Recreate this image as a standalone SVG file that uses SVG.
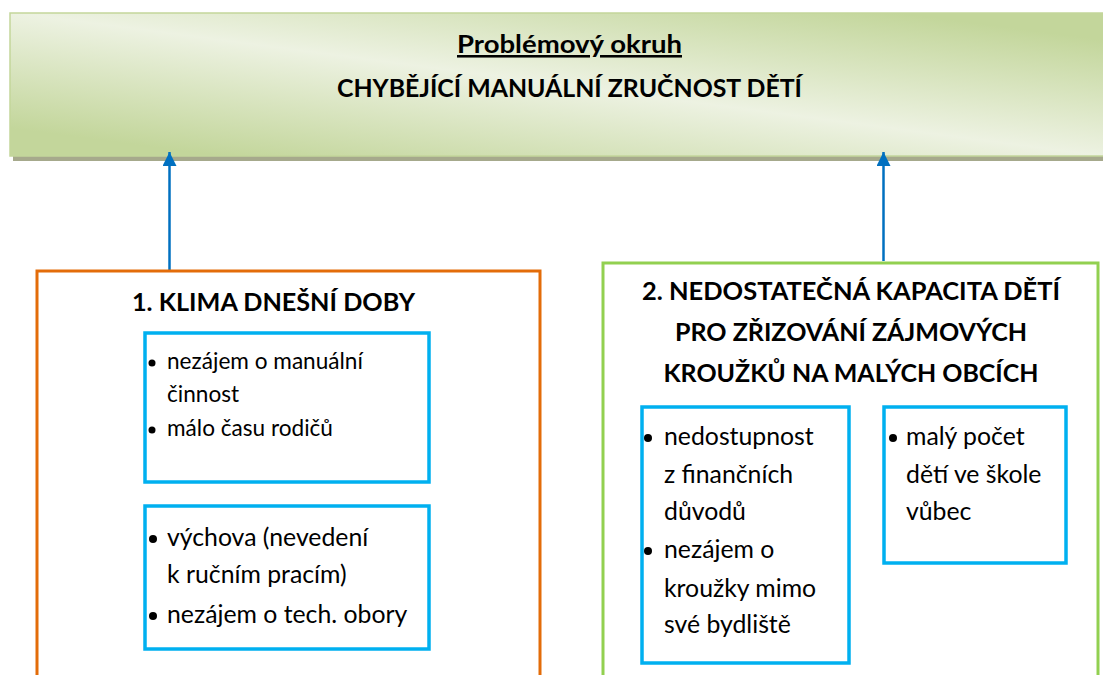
<svg xmlns="http://www.w3.org/2000/svg" width="1103" height="675" viewBox="0 0 1103 675">
<style>
text{font-family:Lato,"Open Sans","Liberation Sans",sans-serif;fill:#000}
.t{font-weight:bold;font-size:25.5px;text-anchor:middle}
.b1{font-size:22.6px}
.b2{font-size:24.8px}
.sub{fill:#fff;stroke:#00b0f0;stroke-width:3.5}
.conn{stroke:#0070c0;stroke-width:2.5;fill:none}
</style>
<defs>
<linearGradient id="g" gradientUnits="userSpaceOnUse" x1="571" y1="-30" x2="541" y2="198">
<stop offset="0" stop-color="#c3d69b"/>
<stop offset="0.5" stop-color="#edf2e2"/>
<stop offset="1" stop-color="#c3d69b"/>
</linearGradient>
<marker id="ah" viewBox="0 0 10 10" refX="10" refY="5" markerWidth="16" markerHeight="14" markerUnits="userSpaceOnUse" orient="auto">
<path d="M0,0 L10,5 L0,10 z" fill="#0070c0"/>
</marker>
</defs>
<rect width="1103" height="675" fill="#fff"/>
<g id="problem">
<rect x="13" y="17" width="1095" height="144" fill="#a6a98c"/>
<rect x="10" y="13" width="1098" height="143" fill="url(#g)" stroke="#c3d69b" stroke-width="1.5"/>
<text class="t" x="569.5" y="53" text-decoration="underline" textLength="225" lengthAdjust="spacingAndGlyphs">Problémový okruh</text>
<text class="t" x="569.5" y="97" textLength="465" lengthAdjust="spacingAndGlyphs">CHYBĚJÍCÍ MANUÁLNÍ ZRUČNOST DĚTÍ</text>
</g>
<g id="connectors">
<line class="conn" x1="169.5" y1="270" x2="169.5" y2="152" marker-end="url(#ah)"/>
<line class="conn" x1="883.5" y1="261" x2="883.5" y2="152" marker-end="url(#ah)"/>
</g>
<g id="cause1">
<rect x="37" y="271" width="503" height="420" fill="#fff" stroke="#e36c09" stroke-width="3"/>
<text class="t" x="273.5" y="311" textLength="283" lengthAdjust="spacingAndGlyphs">1. KLIMA DNEŠNÍ DOBY</text>
</g>
<g id="cause1a">
<rect class="sub" x="145" y="333" width="284" height="149"/>
<circle cx="152" cy="363" r="3.5"/>
<text class="b1" x="167" y="369">nezájem o manuální</text>
<text class="b1" x="167" y="402">činnost</text>
<circle cx="152" cy="430" r="3.5"/>
<text class="b1" x="167" y="436">málo času rodičů</text>
</g>
<g id="cause1b">
<rect class="sub" x="145" y="506" width="284" height="143"/>
<circle cx="153" cy="539" r="4"/>
<text class="b2" x="167" y="546">výchova (nevedení</text>
<text class="b2" x="167" y="583">k ručním pracím)</text>
<circle cx="153" cy="616" r="4"/>
<text class="b2" x="167" y="623">nezájem o tech. obory</text>
</g>
<g id="cause2">
<rect x="603" y="263" width="495" height="430" fill="#fff" stroke="#92d050" stroke-width="3"/>
<text class="t" x="851" y="300" textLength="418" lengthAdjust="spacingAndGlyphs">2. NEDOSTATEČNÁ KAPACITA DĚTÍ</text>
<text class="t" x="851" y="341" textLength="352" lengthAdjust="spacingAndGlyphs">PRO ZŘIZOVÁNÍ ZÁJMOVÝCH</text>
<text class="t" x="851" y="382" textLength="375" lengthAdjust="spacingAndGlyphs">KROUŽKŮ NA MALÝCH OBCÍCH</text>
</g>
<g id="cause2a">
<rect class="sub" x="642" y="407" width="207" height="256"/>
<circle cx="648" cy="438" r="4"/>
<text class="b2" x="664" y="445">nedostupnost</text>
<text class="b2" x="664" y="483">z finančních</text>
<text class="b2" x="664" y="520">důvodů</text>
<circle cx="648" cy="551" r="4"/>
<text class="b2" x="664" y="558">nezájem o</text>
<text class="b2" x="664" y="597">kroužky mimo</text>
<text class="b2" x="664" y="633">své bydliště</text>
</g>
<g id="cause2b">
<rect class="sub" x="884" y="407" width="182" height="156"/>
<circle cx="893" cy="438" r="4"/>
<text class="b2" x="906" y="445">malý počet</text>
<text class="b2" x="906" y="483">dětí ve škole</text>
<text class="b2" x="906" y="520">vůbec</text>
</g>
</svg>
